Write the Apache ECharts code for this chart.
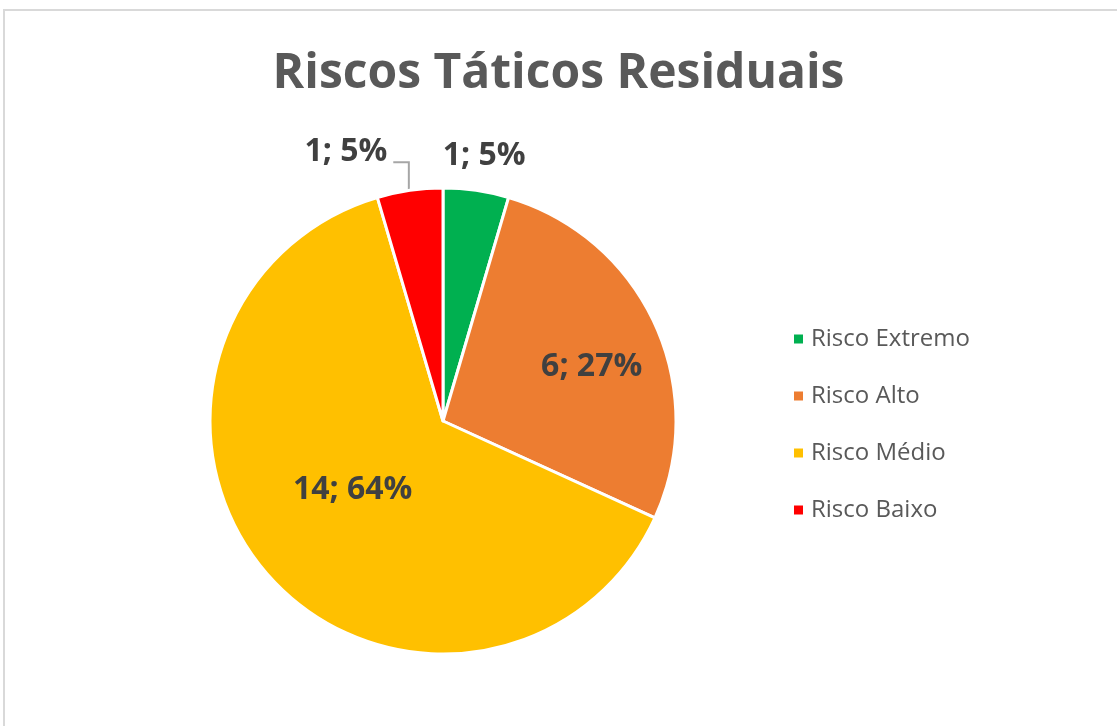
<!DOCTYPE html>
<html>
<head>
<meta charset="utf-8">
<script src="https://cdn.jsdelivr.net/npm/echarts@6/dist/echarts.min.js"></script>
<style>
html,body{margin:0;padding:0;background:#fff;}
#chart{width:1117px;height:726px;}
</style>
</head>
<body>
<div id="chart"></div>
<script>
const titleText = 'Riscos Táticos Residuais';
const categories = ['Risco Extremo', 'Risco Alto', 'Risco Médio', 'Risco Baixo'];
const values = [1, 6, 14, 1];
const colors = ['#00B050', '#ED7D31', '#FFC000', '#FF0000'];

const CX = 443, CY = 421, R = 233;
const total = values.reduce((a, b) => a + b, 0);
function midAngle(i) {
  let s = 0;
  for (let k = 0; k < i; k++) s += values[k];
  return ((s + values[i] / 2) / total) * 2 * Math.PI; // clockwise from top
}
function edgePoint(i) {
  const a = midAngle(i);
  return [CX + R * Math.sin(a), CY - R * Math.cos(a)];
}

const chart = echarts.init(document.getElementById('chart'));
const data = categories.map((c, i) => {
  const outside = values[i] / total < 0.1;
  return {
    name: c,
    value: values[i],
    itemStyle: { color: colors[i] },
    label: { position: outside ? 'outside' : 'inside' },
    labelLine: { show: i === 3, lineStyle: { color: '#a6a6a6', width: 2 } }
  };
});

chart.setOption({
  animation: false,
  backgroundColor: '#fff',
  graphic: [{
    type: 'rect',
    shape: { x: 4, y: 10, width: 1200, height: 800 },
    style: { fill: 'none', stroke: '#d9d9d9', lineWidth: 2 },
    silent: true
  }],
  title: {
    text: titleText,
    left: 'center',
    top: 45,
    textStyle: { fontFamily: 'Open Sans', fontWeight: 'bold', fontSize: 48, color: '#595959' }
  },
  legend: {
    orient: 'vertical',
    left: 787,
    top: 322,
    icon: 'rect',
    itemWidth: 11,
    itemHeight: 11,
    itemGap: 33,
    textStyle: { fontFamily: 'Open Sans', fontSize: 24, color: '#595959', padding: [0, 0, 0, 2] },
    data: categories
  },
  series: [{
    type: 'pie',
    center: [CX, CY],
    radius: [0, R],
    startAngle: 90,
    clockwise: true,
    avoidLabelOverlap: false,
    itemStyle: { borderColor: '#fff', borderWidth: 3 },
    label: {
      formatter: p => p.value + '; ' + Math.round(p.percent) + '%',
      fontFamily: 'Open Sans',
      fontWeight: 'bold',
      fontSize: 32,
      color: '#404040'
    },
    labelLine: { length: 10, length2: 10 },
    labelLayout: function (params) {
      const i = params.dataIndex;
      if (i === 1) return { dx: 40, dy: -4 };
      if (i === 2) return { dx: 0, dy: -9 };
      if (i === 0) {
        const e = edgePoint(0);
        return { x: e[0] + 8, y: e[1] - 34, align: 'center', verticalAlign: 'middle' };
      }
      if (i === 3) {
        const e = edgePoint(3);
        const lx = e[0] - 64, ly = e[1] - 38;
        const w = params.labelRect.width;
        return {
          x: lx, y: ly, align: 'center', verticalAlign: 'middle',
          labelLinePoints: [[e[0] - 1, e[1]], [e[0] - 1, ly + 10], [lx + w / 2 + 6, ly + 10]]
        };
      }
      return {};
    },
    data: data
  }]
});
</script>
</body>
</html>
